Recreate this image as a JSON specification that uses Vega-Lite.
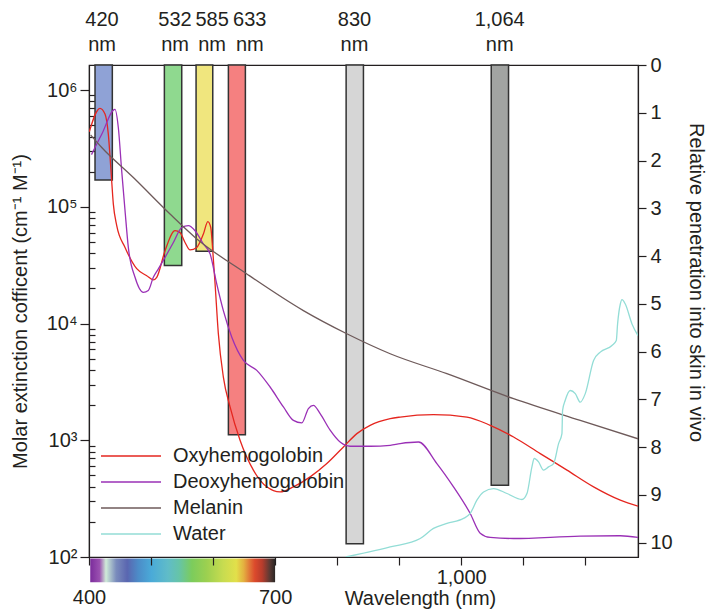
{
  "$schema": "https://vega.github.io/schema/vega-lite/v6.json",
  "width": 549,
  "height": 492,
  "autosize": {"type": "none"},
  "padding": {"left": 89, "top": 65, "right": 70, "bottom": 52},
  "background": "white",
  "config": {
    "font": "Liberation Sans",
    "view": {"stroke": "#231f20", "strokeWidth": 1.2},
    "axis": {
      "labelFont": "Liberation Sans", "labelFontSize": 20, "labelColor": "#231f20",
      "titleFont": "Liberation Sans", "titleFontSize": 20, "titleFontWeight": "normal", "titleColor": "#231f20",
      "domainColor": "#231f20", "tickColor": "#231f20", "domainWidth": 1.2, "tickWidth": 1.2,
      "grid": false, "labelFlush": false, "labelOverlap": false
    },
    "legend": {
      "labelFont": "Liberation Sans", "labelFontSize": 20, "labelColor": "#231f20"
    }
  },
  "datasets": {
    "bars": [
      {"nm": "420", "label": "420\nnm", "lx": 421, "x1": 409.7, "x2": 437.6, "start": 0, "depth": 2.41},
      {"nm": "532", "label": "532\nnm", "lx": 538.7, "x1": 521.5, "x2": 549.5, "start": 0, "depth": 4.2},
      {"nm": "585", "label": "585\nnm", "lx": 598.4, "x1": 572.6, "x2": 599.5, "start": 0, "depth": 3.9},
      {"nm": "633", "label": "633\nnm", "lx": 659.2, "x1": 624.7, "x2": 652.1, "start": 0, "depth": 7.74},
      {"nm": "830", "label": "830\nnm", "lx": 828, "x1": 814.5, "x2": 842.4, "start": 0, "depth": 10.02},
      {"nm": "1064", "label": "1,064\nnm", "lx": 1062, "x1": 1048.4, "x2": 1076.3, "start": 0, "depth": 8.8}
    ],
    "spectrum": [{"from": 402, "to": 700, "lo": 10.33, "hi": 10.83}],
    "curves": [
      {"s": "Oxyhemogolobin", "w": 400.5, "v": 440000},
      {"s": "Oxyhemogolobin", "w": 417.7, "v": 698000},
      {"s": "Oxyhemogolobin", "w": 425.8, "v": 624000},
      {"s": "Oxyhemogolobin", "w": 431.1, "v": 421000},
      {"s": "Oxyhemogolobin", "w": 435.5, "v": 203000},
      {"s": "Oxyhemogolobin", "w": 439.2, "v": 106000},
      {"s": "Oxyhemogolobin", "w": 444.7, "v": 68900},
      {"s": "Oxyhemogolobin", "w": 458.1, "v": 44900},
      {"s": "Oxyhemogolobin", "w": 476.9, "v": 29500},
      {"s": "Oxyhemogolobin", "w": 493.1, "v": 25700},
      {"s": "Oxyhemogolobin", "w": 503.7, "v": 23700},
      {"s": "Oxyhemogolobin", "w": 509.2, "v": 24900},
      {"s": "Oxyhemogolobin", "w": 522.6, "v": 42100},
      {"s": "Oxyhemogolobin", "w": 538.7, "v": 62400},
      {"s": "Oxyhemogolobin", "w": 546.8, "v": 60100},
      {"s": "Oxyhemogolobin", "w": 554.8, "v": 49500},
      {"s": "Oxyhemogolobin", "w": 562.9, "v": 42700},
      {"s": "Oxyhemogolobin", "w": 573.7, "v": 44900},
      {"s": "Oxyhemogolobin", "w": 584.4, "v": 58500},
      {"s": "Oxyhemogolobin", "w": 591.5, "v": 74800},
      {"s": "Oxyhemogolobin", "w": 596.3, "v": 66500},
      {"s": "Oxyhemogolobin", "w": 599.5, "v": 42100},
      {"s": "Oxyhemogolobin", "w": 603.2, "v": 22000},
      {"s": "Oxyhemogolobin", "w": 608.5, "v": 8200},
      {"s": "Oxyhemogolobin", "w": 616.6, "v": 3480},
      {"s": "Oxyhemogolobin", "w": 627.4, "v": 1930},
      {"s": "Oxyhemogolobin", "w": 643.5, "v": 1000},
      {"s": "Oxyhemogolobin", "w": 665, "v": 555},
      {"s": "Oxyhemogolobin", "w": 686.6, "v": 399},
      {"s": "Oxyhemogolobin", "w": 708.1, "v": 361},
      {"s": "Oxyhemogolobin", "w": 729.5, "v": 399},
      {"s": "Oxyhemogolobin", "w": 756.5, "v": 486},
      {"s": "Oxyhemogolobin", "w": 783.4, "v": 632},
      {"s": "Oxyhemogolobin", "w": 810.2, "v": 877},
      {"s": "Oxyhemogolobin", "w": 831.8, "v": 1140},
      {"s": "Oxyhemogolobin", "w": 853.2, "v": 1343},
      {"s": "Oxyhemogolobin", "w": 885.5, "v": 1531},
      {"s": "Oxyhemogolobin", "w": 901.6, "v": 1581},
      {"s": "Oxyhemogolobin", "w": 955.3, "v": 1660},
      {"s": "Oxyhemogolobin", "w": 1009.2, "v": 1581},
      {"s": "Oxyhemogolobin", "w": 1046.8, "v": 1343},
      {"s": "Oxyhemogolobin", "w": 1084.4, "v": 1067},
      {"s": "Oxyhemogolobin", "w": 1127.4, "v": 769},
      {"s": "Oxyhemogolobin", "w": 1170.5, "v": 555},
      {"s": "Oxyhemogolobin", "w": 1213.4, "v": 399},
      {"s": "Oxyhemogolobin", "w": 1256.5, "v": 307},
      {"s": "Oxyhemogolobin", "w": 1285, "v": 273},
      {"s": "Deoxyhemogolobin", "w": 404, "v": 280000},
      {"s": "Deoxyhemogolobin", "w": 420.5, "v": 418000},
      {"s": "Deoxyhemogolobin", "w": 441.9, "v": 684000},
      {"s": "Deoxyhemogolobin", "w": 447.3, "v": 476000},
      {"s": "Deoxyhemogolobin", "w": 452.7, "v": 203000},
      {"s": "Deoxyhemogolobin", "w": 458.1, "v": 92500},
      {"s": "Deoxyhemogolobin", "w": 463.4, "v": 44900},
      {"s": "Deoxyhemogolobin", "w": 474.2, "v": 24900},
      {"s": "Deoxyhemogolobin", "w": 487.6, "v": 18500},
      {"s": "Deoxyhemogolobin", "w": 495.6, "v": 19200},
      {"s": "Deoxyhemogolobin", "w": 503.7, "v": 24900},
      {"s": "Deoxyhemogolobin", "w": 511.8, "v": 29400},
      {"s": "Deoxyhemogolobin", "w": 522.6, "v": 36900},
      {"s": "Deoxyhemogolobin", "w": 536, "v": 49500},
      {"s": "Deoxyhemogolobin", "w": 549.5, "v": 66500},
      {"s": "Deoxyhemogolobin", "w": 560.2, "v": 68900},
      {"s": "Deoxyhemogolobin", "w": 571, "v": 62400},
      {"s": "Deoxyhemogolobin", "w": 584.4, "v": 48000},
      {"s": "Deoxyhemogolobin", "w": 595.2, "v": 39500},
      {"s": "Deoxyhemogolobin", "w": 606, "v": 21800},
      {"s": "Deoxyhemogolobin", "w": 616.6, "v": 12900},
      {"s": "Deoxyhemogolobin", "w": 630.2, "v": 7640},
      {"s": "Deoxyhemogolobin", "w": 648.9, "v": 4830},
      {"s": "Deoxyhemogolobin", "w": 670.5, "v": 3970},
      {"s": "Deoxyhemogolobin", "w": 691.9, "v": 2860},
      {"s": "Deoxyhemogolobin", "w": 713.4, "v": 1930},
      {"s": "Deoxyhemogolobin", "w": 729.5, "v": 1480},
      {"s": "Deoxyhemogolobin", "w": 743.1, "v": 1410},
      {"s": "Deoxyhemogolobin", "w": 753.7, "v": 1870},
      {"s": "Deoxyhemogolobin", "w": 761.8, "v": 1990},
      {"s": "Deoxyhemogolobin", "w": 772.6, "v": 1690},
      {"s": "Deoxyhemogolobin", "w": 788.7, "v": 1220},
      {"s": "Deoxyhemogolobin", "w": 804.8, "v": 966},
      {"s": "Deoxyhemogolobin", "w": 821, "v": 889},
      {"s": "Deoxyhemogolobin", "w": 853.2, "v": 889},
      {"s": "Deoxyhemogolobin", "w": 885.5, "v": 906},
      {"s": "Deoxyhemogolobin", "w": 901.6, "v": 937},
      {"s": "Deoxyhemogolobin", "w": 931.1, "v": 966},
      {"s": "Deoxyhemogolobin", "w": 960.8, "v": 632},
      {"s": "Deoxyhemogolobin", "w": 987.6, "v": 399},
      {"s": "Deoxyhemogolobin", "w": 1014.5, "v": 236},
      {"s": "Deoxyhemogolobin", "w": 1030.6, "v": 160},
      {"s": "Deoxyhemogolobin", "w": 1046.8, "v": 147},
      {"s": "Deoxyhemogolobin", "w": 1084.4, "v": 144},
      {"s": "Deoxyhemogolobin", "w": 1191.9, "v": 151},
      {"s": "Deoxyhemogolobin", "w": 1256.5, "v": 152},
      {"s": "Deoxyhemogolobin", "w": 1285, "v": 147},
      {"s": "Melanin", "w": 402.7, "v": 412000},
      {"s": "Melanin", "w": 420.5, "v": 322000},
      {"s": "Melanin", "w": 471.5, "v": 178000},
      {"s": "Melanin", "w": 530.6, "v": 86700},
      {"s": "Melanin", "w": 571, "v": 54700},
      {"s": "Melanin", "w": 654.4, "v": 26600},
      {"s": "Melanin", "w": 745.6, "v": 12900},
      {"s": "Melanin", "w": 815.6, "v": 8170},
      {"s": "Melanin", "w": 885.5, "v": 5510},
      {"s": "Melanin", "w": 976.9, "v": 3720},
      {"s": "Melanin", "w": 1084.4, "v": 2270},
      {"s": "Melanin", "w": 1191.9, "v": 1480},
      {"s": "Melanin", "w": 1285, "v": 1030},
      {"s": "Water", "w": 814, "v": 100},
      {"s": "Water", "w": 850, "v": 110},
      {"s": "Water", "w": 885.5, "v": 122},
      {"s": "Water", "w": 933.9, "v": 144},
      {"s": "Water", "w": 955.3, "v": 176},
      {"s": "Water", "w": 977, "v": 194},
      {"s": "Water", "w": 1003.7, "v": 214},
      {"s": "Water", "w": 1014.5, "v": 236},
      {"s": "Water", "w": 1025.3, "v": 307},
      {"s": "Water", "w": 1036, "v": 361},
      {"s": "Water", "w": 1052.1, "v": 386},
      {"s": "Water", "w": 1073.7, "v": 350},
      {"s": "Water", "w": 1097.9, "v": 311},
      {"s": "Water", "w": 1106, "v": 350},
      {"s": "Water", "w": 1114, "v": 592},
      {"s": "Water", "w": 1117.7, "v": 698},
      {"s": "Water", "w": 1124.7, "v": 653},
      {"s": "Water", "w": 1132.7, "v": 555},
      {"s": "Water", "w": 1140.8, "v": 592},
      {"s": "Water", "w": 1148.9, "v": 632},
      {"s": "Water", "w": 1157, "v": 937},
      {"s": "Water", "w": 1162.4, "v": 1140},
      {"s": "Water", "w": 1163.4, "v": 1800},
      {"s": "Water", "w": 1167.7, "v": 2200},
      {"s": "Water", "w": 1175.8, "v": 2670},
      {"s": "Water", "w": 1183.9, "v": 2510},
      {"s": "Water", "w": 1191.9, "v": 2120},
      {"s": "Water", "w": 1200, "v": 2510},
      {"s": "Water", "w": 1213.4, "v": 4830},
      {"s": "Water", "w": 1224.2, "v": 5690},
      {"s": "Water", "w": 1243, "v": 6490},
      {"s": "Water", "w": 1250, "v": 7160},
      {"s": "Water", "w": 1252.1, "v": 9930},
      {"s": "Water", "w": 1256.5, "v": 14700},
      {"s": "Water", "w": 1259.2, "v": 16000},
      {"s": "Water", "w": 1264.5, "v": 14700},
      {"s": "Water", "w": 1275.3, "v": 9930},
      {"s": "Water", "w": 1285, "v": 7890}
    ]
  },
  "layer": [
    {
      "data": {"name": "bars"},
      "mark": {"type": "rect", "stroke": "#333333", "strokeWidth": 1.5},
      "encoding": {
        "x": {"field": "x1", "type": "quantitative", "scale": {"domain": [400, 1285], "nice": false, "zero": false},
          "axis": {
            "orient": "bottom",
            "values": [400, 500, 600, 700, 800, 900, 1000, 1100, 1200],
            "tickSize": 8,
            "labelExpr": "datum.value == 1000 ? '1,000' : ''",
            "labelPadding": 2,
            "title": "Wavelength (nm)",
            "titleX": 331,
            "titleY": 47,
            "titleBaseline": "alphabetic",
            "zindex": 1
          }
        },
        "x2": {"field": "x2"},
        "y": {"field": "start", "type": "quantitative", "scale": {"domain": [0, 10.3], "reverse": true, "nice": false, "zero": false},
          "axis": {
            "orient": "right",
            "values": [0, 1, 2, 3, 4, 5, 6, 7, 8, 9, 10],
            "tickSize": 8,
            "labelPadding": 4,
            "title": "Relative penetration into skin in vivo",
            "titleAngle": 90,
            "titleX": 57,
            "titleY": 217,
            "titleBaseline": "middle",
            "titleAlign": "center"
          }
        },
        "y2": {"field": "depth"},
        "color": {"field": "nm", "type": "nominal",
          "scale": {"domain": ["420", "532", "585", "633", "830", "1064"], "range": ["#8fa2d6", "#8fd98f", "#f0e67e", "#f58080", "#d6d6d6", "#a2a4a2"]},
          "legend": null}
      }
    },
    {
      "data": {"name": "bars"},
      "mark": {"type": "text", "fontSize": 20, "lineBreak": "\n", "lineHeight": 25, "baseline": "bottom", "align": "center", "dy": -35, "color": "#231f20"},
      "encoding": {
        "x": {"field": "lx", "type": "quantitative", "scale": {"domain": [400, 1285], "nice": false, "zero": false}, "axis": null},
        "y": {"field": "start", "type": "quantitative", "scale": {"domain": [0, 10.3], "reverse": true, "nice": false, "zero": false}, "axis": null},
        "text": {"field": "label", "type": "nominal"}
      }
    },
    {
      "data": {"name": "spectrum"},
      "mark": {"type": "rect", "color": {"gradient": "linear", "x1": 0, "x2": 1, "y1": 0, "y2": 0, "stops": [
        {"offset": 0, "color": "#7b2c9c"},
        {"offset": 0.05, "color": "#9a50b0"},
        {"offset": 0.085, "color": "#d0ecd8"},
        {"offset": 0.1, "color": "#b8d0d0"},
        {"offset": 0.14, "color": "#7a8cbc"},
        {"offset": 0.2, "color": "#5a66b0"},
        {"offset": 0.26, "color": "#4c8cc8"},
        {"offset": 0.33, "color": "#4aaad8"},
        {"offset": 0.42, "color": "#60bcc8"},
        {"offset": 0.48, "color": "#66c4a8"},
        {"offset": 0.55, "color": "#7ccc5c"},
        {"offset": 0.63, "color": "#9cd050"},
        {"offset": 0.72, "color": "#c8dc50"},
        {"offset": 0.79, "color": "#e2e04a"},
        {"offset": 0.83, "color": "#e4b040"},
        {"offset": 0.86, "color": "#e07a38"},
        {"offset": 0.89, "color": "#dc4a2c"},
        {"offset": 0.93, "color": "#b83c2c"},
        {"offset": 0.97, "color": "#5c3a34"},
        {"offset": 1, "color": "#2a2624"}
      ]}},
      "encoding": {
        "x": {"field": "from", "type": "quantitative", "scale": {"domain": [400, 1285], "nice": false, "zero": false}, "axis": null},
        "x2": {"field": "to"},
        "y": {"field": "lo", "type": "quantitative", "scale": {"domain": [0, 10.3], "reverse": true, "nice": false, "zero": false}, "axis": null},
        "y2": {"field": "hi"}
      }
    },
    {
      "data": {"name": "curves"},
      "mark": {"type": "point", "opacity": 0},
      "encoding": {
        "x": {"field": "w", "type": "quantitative", "scale": {"domain": [400, 1285], "nice": false, "zero": false},
          "axis": {"orient": "bottom", "values": [400, 700], "ticks": false, "domain": false, "labelPadding": 30, "title": null}},
        "y": {"field": "v", "type": "quantitative",
          "scale": {"type": "log", "domain": [100, 1640000], "nice": false},
          "axis": {
            "orient": "left",
            "values": [200, 300, 400, 500, 600, 700, 800, 900, 2000, 3000, 4000, 5000, 6000, 7000, 8000, 9000, 20000, 30000, 40000, 50000, 60000, 70000, 80000, 90000, 200000, 300000, 400000, 500000, 600000, 700000, 800000, 900000],
            "tickSize": -6, "labels": false, "domain": false, "title": null
          }
        }
      }
    },
    {
      "data": {"name": "curves"},
      "mark": {"type": "line", "interpolate": "monotone", "strokeWidth": 1.3, "clip": true},
      "encoding": {
        "x": {"field": "w", "type": "quantitative", "scale": {"domain": [400, 1285], "nice": false, "zero": false}, "axis": null},
        "y": {"field": "v", "type": "quantitative",
          "scale": {"type": "log", "domain": [100, 1640000], "nice": false},
          "axis": {
            "orient": "left",
            "values": [100, 1000, 10000, 100000, 1000000],
            "labelExpr": "'10' + ['⁰','¹','²','³','⁴','⁵','⁶','⁷'][round(log(datum.value)/LN10)]",
            "tickSize": 9,
            "labelPadding": 3,
            "title": "Molar extinction cofficent (cm⁻¹ M⁻¹)",
            "titleX": -69,
            "titleY": 246,
            "titleAngle": -90,
            "titleBaseline": "middle",
            "titleAlign": "center"
          }
        },
        "color": {"field": "s", "type": "nominal",
          "scale": {"domain": ["Oxyhemogolobin", "Deoxyhemogolobin", "Melanin", "Water"], "range": ["#e5261f", "#9a30b6", "#6e5a5a", "#93ddd6"]},
          "legend": {
            "orient": "none", "legendX": 32, "legendY": 381, "title": null,
            "symbolType": "M-6,0H6", "symbolSize": 100, "symbolStrokeWidth": 1.3,
            "labelOffset": 32, "rowPadding": 6, "padding": 0, "labelLimit": 400
          }
        }
      }
    }
  ],
  "resolve": {"scale": {"y": "independent", "color": "independent"}, "axis": {"x": "independent"}}
}
